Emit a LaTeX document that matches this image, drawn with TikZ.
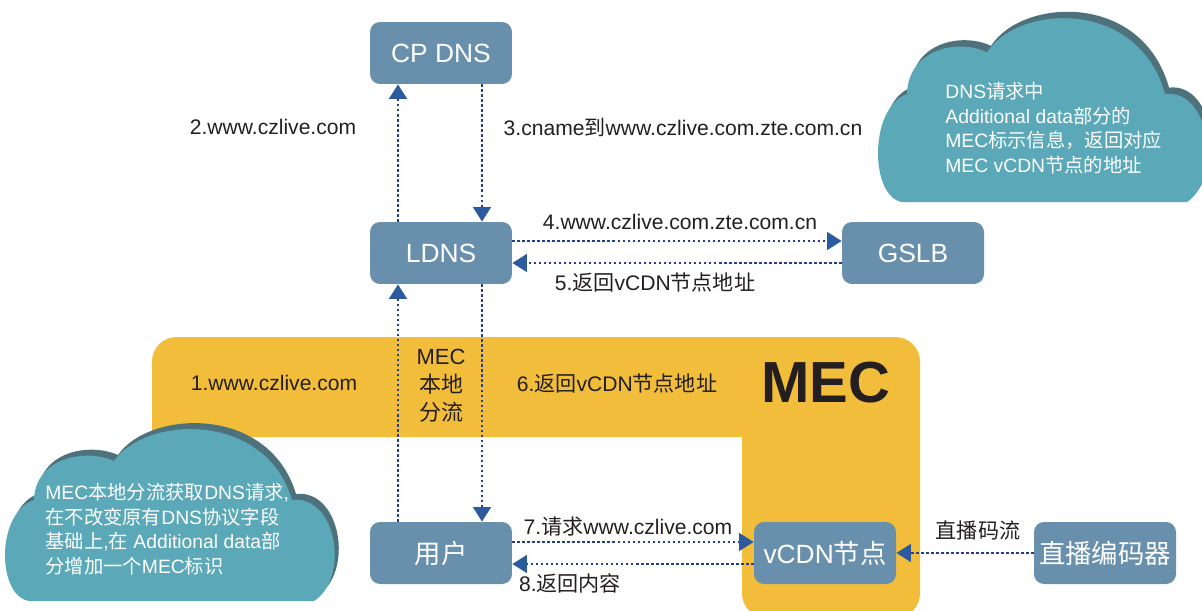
\documentclass[tikz,border=0pt]{standalone}
\usepackage{fontspec}
\setmainfont{Liberation Sans}
\newfontfamily\zhfont{Noto Sans CJK SC}
\newcommand{\zh}[1]{{\zhfont #1}}
\usepackage{tikz}
\usetikzlibrary{arrows.meta}
\usetikzlibrary{calc}
\definecolor{boxblue}{RGB}{104,144,173}
\definecolor{mecyellow}{RGB}{242,189,58}
\definecolor{cloudfront}{RGB}{90,168,184}
\definecolor{cloudback}{RGB}{78,114,123}
\definecolor{lineblue}{RGB}{36,62,142}
\definecolor{tipblue}{RGB}{43,91,158}
\definecolor{labelgray}{RGB}{35,31,32}
\newcommand{\boxwidth}{2.84cm}
\newcommand{\boxheight}{1.24cm}
% one cloud, local pixel units, y running down
\newcommand{\cloudpath}{(25,173) .. controls (-8,170) and (-10,85) .. (29,72)
  .. controls (30,30) and (80,20) .. (109,33)
  .. controls (140,-12) and (260,-18) .. (287,72)
  .. controls (332,67) and (345,150) .. (309,173) -- cycle}
\tikzstyle{box}=[fill=boxblue, rounded corners=0.2cm, inner sep=0, minimum width=\boxwidth, minimum height=\boxheight,
                 text=white, font=\fontsize{15}{18}\selectfont]
\tikzstyle{flow}=[draw=lineblue, line width=1.6pt, dash pattern=on 1.4pt off 1.45pt,
                  -{Triangle[width=0.35cm, length=0.29cm, color=tipblue]}]
\tikzstyle{lbl}=[inner sep=0, text=labelgray, font=\fontsize{12}{14}\selectfont]
\tikzstyle{cloudtext}=[inner sep=0, anchor=north west, align=left, text=white, font=\fontsize{11}{14}\selectfont]

\begin{document}
\begin{tikzpicture}[x=0.02cm, y=-0.02cm]
    \useasboundingbox (0,0) rectangle (1202,611);
    \clip (0,0) rectangle (1202,611);
    % MEC area
    \fill[mecyellow] (152,437) [rounded corners=14] -- (152,337) -- (920,337) -- (920,618) -- (742,618) [sharp corners] -- (742,437) -- cycle;
    % clouds
    \begin{scope}[shift={(878,17)}, yscale=1.07]
        \fill[cloudback, shift={(4,-6)}] \cloudpath;
        \fill[cloudfront] \cloudpath;
    \end{scope}
    \begin{scope}[shift={(5,428)}]
        \fill[cloudback, shift={(4,-6)}] \cloudpath;
        \fill[cloudfront] \cloudpath;
    \end{scope}
    \node[cloudtext] (topnote) at (945,82) {DNS\zh{请求中}\\Additional data\zh{部分的}\\MEC\zh{标示信息，返回对应}\\MEC vCDN\zh{节点的地址}};
    \node[cloudtext] (bottomnote) at (45,483) {MEC\zh{本地分流获取}DNS\zh{请求},\\\zh{在不改变原有}DNS\zh{协议字段}\\\zh{基础上},\zh{在} Additional data\zh{部}\\\zh{分增加一个}MEC\zh{标识}};

    \node[box] (cpdns)   at (441,53)  {CP DNS};
    \node[box] (ldns)    at (441,253) {LDNS};
    \node[box] (gslb)    at (913,253) {GSLB};
    \node[box] (user)    at (441,553) {\zh{用户}};
    \node[box] (vcdn)    at (825,553) {vCDN\zh{节点}};
    \node[box] (encoder) at (1105,553) {\zh{直播编码器}};

    \draw[flow] ($(ldns.north)+(-43,0)$) -- ($(cpdns.south)+(-43,0)$);
    \draw[flow] ($(cpdns.south)+(41,0)$) -- ($(ldns.north)+(41,0)$);
    \draw[flow] ($(ldns.east)+(0,-12)$) -- ($(gslb.west)+(0,-12)$);
    \draw[flow] ($(gslb.west)+(0,10)$) -- ($(ldns.east)+(0,10)$);
    \draw[flow] ($(user.north)+(-43,0)$) -- ($(ldns.south)+(-43,0)$);
    \draw[flow] ($(ldns.south)+(41,0)$) -- ($(user.north)+(41,0)$);
    \draw[flow] ($(user.east)+(0,-11)$) -- ($(vcdn.west)+(0,-11)$);
    \draw[flow] ($(vcdn.west)+(0,11)$) -- ($(user.east)+(0,11)$);
    \draw[flow] (encoder) -- (vcdn);

    \node[lbl] (l2) at (273,127) {2.www.czlive.com};
    \node[lbl] (l3) at (683,127) {3.cname\zh{到}www.czlive.com.zte.com.cn};
    \node[lbl] (l4) at (680,222) {4.www.czlive.com.zte.com.cn};
    \node[lbl] (l5) at (655,282) {5.\zh{返回}vCDN\zh{节点地址}};
    \node[lbl] (l1) at (274,383) {1.www.czlive.com};
    \node[lbl, align=center, font=\fontsize{12.5}{16}\selectfont] (local) at (441,386) {MEC\\\zh{本地}\\\zh{分流}};
    \node[lbl] (l6) at (617,383) {6.\zh{返回}vCDN\zh{节点地址}};
    \node[lbl, font=\fontsize{33}{36}\bfseries] (mec) at (826,383) {MEC};
    \node[lbl] (l7) at (628,527) {7.\zh{请求}www.czlive.com};
    \node[lbl] (l8) at (570,583) {8.\zh{返回内容}};
    \node[lbl] (stream) at (978,530) {\zh{直播码流}};
\end{tikzpicture}
\end{document}
